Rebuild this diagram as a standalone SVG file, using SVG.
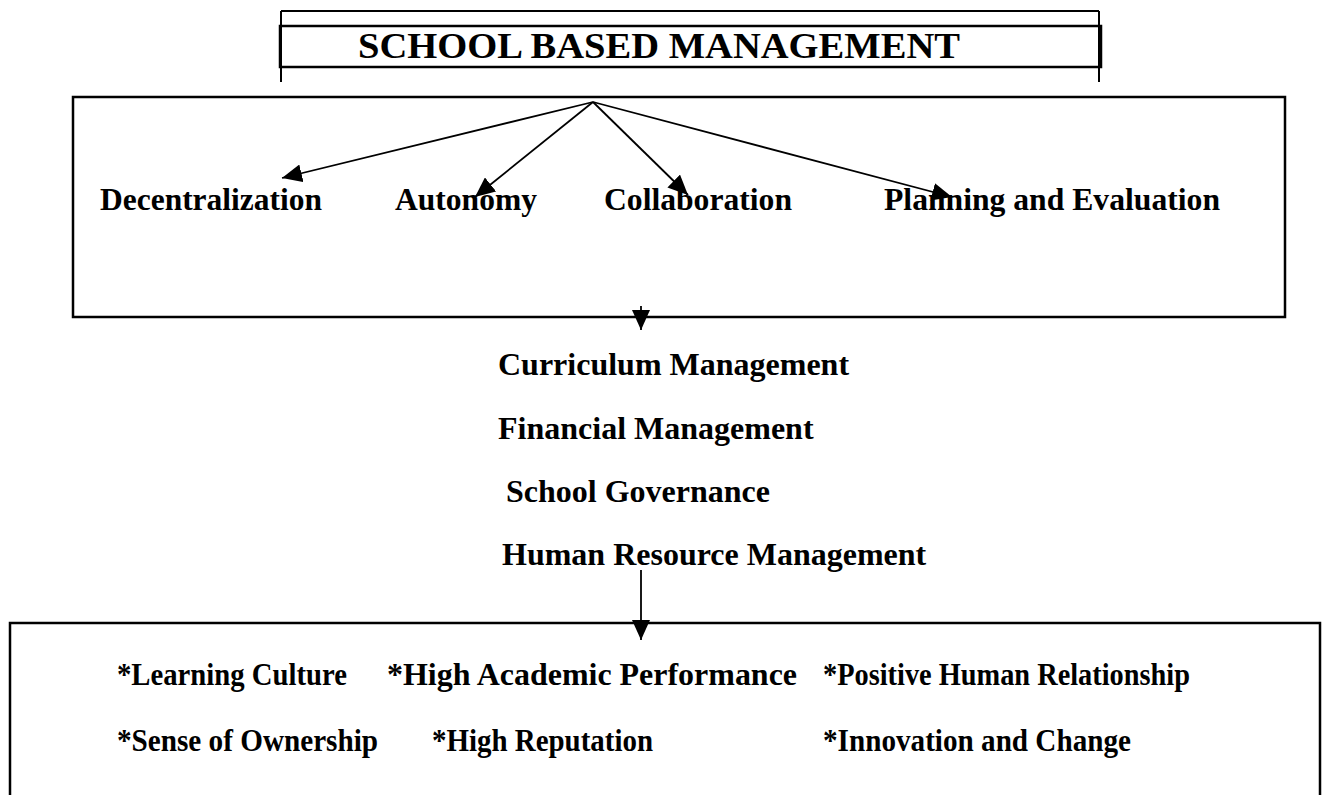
<svg xmlns="http://www.w3.org/2000/svg" width="1328" height="795" viewBox="0 0 1328 795">
  <style>
    .frame { fill: none; stroke: #000; stroke-width: 2.5; }
    .rule { fill: none; stroke: #000; stroke-width: 2; }
    .link { fill: none; stroke: #000; stroke-width: 1.8; marker-end: url(#head); }
    .t { font-family: "Liberation Serif", "Times New Roman", serif; font-weight: bold; fill: #000; }
    .title { font-size: 36px; }
    .pillar { font-size: 31px; }
    .area { font-size: 32px; }
    .outcome { font-size: 31px; }
  </style>
  <defs>
    <marker id="head" viewBox="0 0 20 18" refX="20" refY="9" markerWidth="20" markerHeight="18" markerUnits="userSpaceOnUse" orient="auto">
      <path d="M0,0 L20,9 L0,18 z" fill="#000"/>
    </marker>
  </defs>

  <rect width="1328" height="795" fill="#fff"/>

  <!-- Title banner -->
  <g id="node-sbm">
    <path class="rule" d="M281,11 H1099 M281,11 V82 M1099,11 V82"/>
    <rect class="frame" x="280" y="26" width="821" height="41"/>
    <text class="t title" x="358" y="58" textLength="602" lengthAdjust="spacingAndGlyphs">SCHOOL BASED MANAGEMENT</text>
  </g>

  <!-- Pillars -->
  <g id="node-pillars">
    <rect class="frame" x="73" y="97" width="1212" height="220"/>
    <text class="t pillar" x="100" y="210" textLength="222" lengthAdjust="spacingAndGlyphs">Decentralization</text>
    <text class="t pillar" x="395" y="210" textLength="142" lengthAdjust="spacingAndGlyphs">Autonomy</text>
    <text class="t pillar" x="604" y="210" textLength="188" lengthAdjust="spacingAndGlyphs">Collaboration</text>
    <text class="t pillar" x="884" y="210" textLength="336" lengthAdjust="spacingAndGlyphs">Planning and Evaluation</text>
  </g>

  <!-- Management areas -->
  <g id="node-areas">
    <text class="t area" x="498" y="375">Curriculum Management</text>
    <text class="t area" x="498" y="439">Financial Management</text>
    <text class="t area" x="506" y="502">School Governance</text>
    <text class="t area" x="502" y="565">Human Resource Management</text>
  </g>

  <!-- Outcomes -->
  <g id="node-outcomes">
    <rect class="frame" x="10" y="623" width="1310" height="200"/>
    <text class="t outcome" x="117" y="685" textLength="230" lengthAdjust="spacingAndGlyphs">*Learning Culture</text>
    <text class="t outcome" x="387" y="685" textLength="410" lengthAdjust="spacingAndGlyphs">*High Academic Performance</text>
    <text class="t outcome" x="823" y="685" textLength="367" lengthAdjust="spacingAndGlyphs">*Positive Human Relationship</text>
    <text class="t outcome" x="117" y="751" textLength="261" lengthAdjust="spacingAndGlyphs">*Sense of Ownership</text>
    <text class="t outcome" x="432" y="751" textLength="221" lengthAdjust="spacingAndGlyphs">*High Reputation</text>
    <text class="t outcome" x="823" y="751" textLength="308" lengthAdjust="spacingAndGlyphs">*Innovation and Change</text>
  </g>

  <!-- Connectors -->
  <g id="connectors">
    <line class="link" x1="593" y1="102" x2="282" y2="178"/>
    <line class="link" x1="593" y1="102" x2="475" y2="197"/>
    <line class="link" x1="593" y1="102" x2="688" y2="195"/>
    <line class="link" x1="593" y1="102" x2="952" y2="197"/>
    <line class="link" x1="641" y1="306" x2="641" y2="330"/>
    <line class="link" x1="641" y1="570" x2="641" y2="640"/>
  </g>
</svg>
